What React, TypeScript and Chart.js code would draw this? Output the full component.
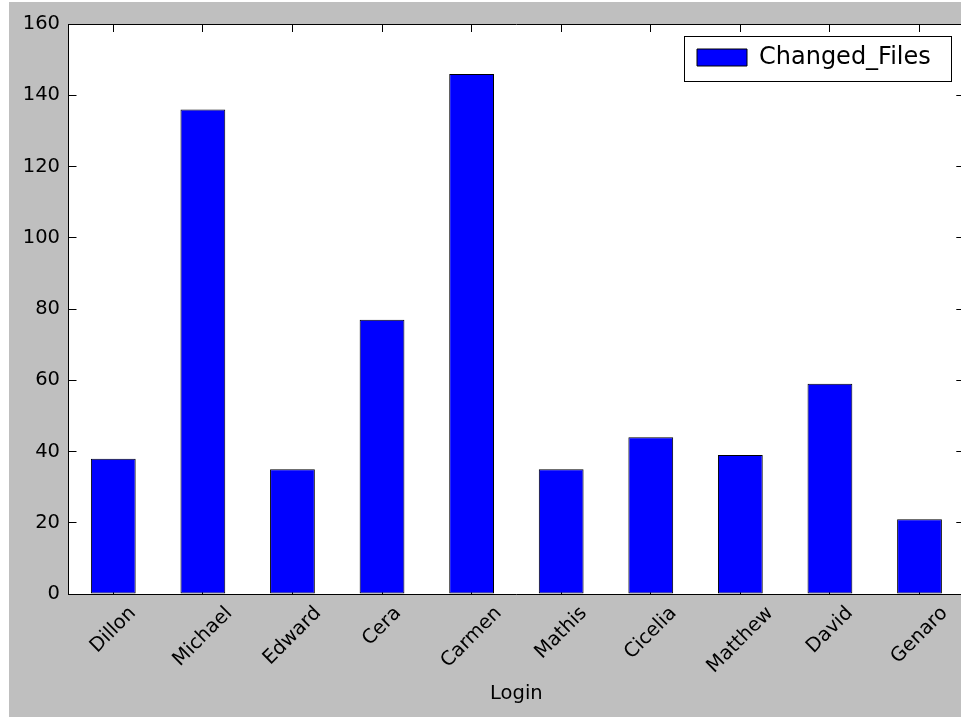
import React, { useEffect, useRef } from 'react';
import { Chart, registerables } from 'chart.js';

Chart.register(...registerables);

const categories = ['Dillon', 'Michael', 'Edward', 'Cera', 'Carmen', 'Mathis', 'Cicelia', 'Matthew', 'David', 'Genaro'];
const changedFiles = [38, 136, 35, 77, 146, 35, 44, 39, 59, 21];
const seriesName = 'Changed_Files';
const xAxisTitle = 'Login';
const yMin = 0;
const yMax = 160;
const yStep = 20;

const FONT = "'DejaVu Sans', sans-serif";

const whiteArea = {
  id: 'whiteArea',
  beforeDraw(chart: any) {
    const { ctx, chartArea } = chart;
    ctx.save();
    ctx.fillStyle = '#ffffff';
    ctx.fillRect(chartArea.left, chartArea.top, chartArea.right - chartArea.left, chartArea.bottom - chartArea.top);
    ctx.restore();
  },
};

const centerRotatedLabels = {
  id: 'centerRotatedLabels',
  beforeDraw(chart: any) {
    const scale = chart.scales.x;
    const items = scale.getLabelItems(chart.chartArea);
    const ctx = chart.ctx;
    ctx.save();
    items.forEach((it: any) => {
      if (it.__adj) return;
      ctx.font = it.font.string;
      const w = ctx.measureText(String(it.label)).width;
      it.options.translation[0] += 0.3536 * w;
      it.__adj = true;
    });
    ctx.restore();
  },
};

const legendPlacement = {
  id: 'legendPlacement',
  afterLayout(chart: any) {
    const lg = chart.legend;
    const ca = chart.chartArea;
    if (!lg) return;
    const frameW = 267;
    const frameH = 45;
    const frameRight = ca.right - 13.3;
    const frameTop = ca.top + 12;
    const frameLeft = frameRight - frameW;
    const w = lg.width;
    const h = lg.height;
    lg.left = frameLeft;
    lg.right = frameLeft + w;
    lg.top = frameTop - 3.5;
    lg.bottom = lg.top + h;
    chart.$legendFrame = { x: frameLeft, y: frameTop, w: frameW, h: frameH };
  },
  afterDraw(chart: any) {
    const f = chart.$legendFrame;
    if (!f) return;
    const ctx = chart.ctx;
    ctx.save();
    ctx.strokeStyle = '#000000';
    ctx.lineWidth = 1;
    ctx.strokeRect(Math.round(f.x) + 0.5, Math.round(f.y) + 0.5, Math.round(f.w), Math.round(f.h));
    ctx.restore();
  },
};

const innerGrid = {
  offset: false,
  drawOnChartArea: false,
  drawTicks: true,
  tickLength: -8,
  color: '#000000',
  tickColor: '#000000',
  lineWidth: 1,
};

const axisBorder = { display: true, color: '#000000', width: 1 };

export default function App() {
  const ref = useRef<HTMLCanvasElement>(null);

  useEffect(() => {
    if (!ref.current) return;
    const chart = new Chart(ref.current, {
      type: 'bar',
      data: {
        labels: categories,
        datasets: [
          {
            label: seriesName,
            data: changedFiles,
            backgroundColor: '#0000ff',
            borderColor: '#000000',
            borderWidth: 1,
            borderSkipped: false,
            barPercentage: 0.5,
            categoryPercentage: 1.0,
            xAxisID: 'x',
            yAxisID: 'y',
          },
        ],
      },
      options: {
        responsive: false,
        animation: false,
        devicePixelRatio: 1,
        events: [],
        layout: { padding: { top: 22, right: 4.7, left: 0, bottom: 0 } },
        plugins: {
          legend: {
            position: 'chartArea',
            align: 'start',
            labels: {
              boxWidth: 50,
              boxHeight: 17,
              padding: 13,
              color: '#000000',
              font: { family: FONT, size: 24 },
            },
          },
          tooltip: { enabled: false },
        },
        scales: {
          x: {
            type: 'category',
            position: 'bottom',
            offset: true,
            grid: innerGrid,
            border: axisBorder,
            ticks: {
              autoSkip: false,
              minRotation: 45,
              maxRotation: 45,
              padding: 16,
              color: '#000000',
              font: { family: FONT, size: 19.5 },
            },
            title: {
              display: true,
              text: xAxisTitle,
              color: '#000000',
              font: { family: FONT, size: 19.5 },
              padding: { top: 0, bottom: 11.3 },
            },
            afterFit: (s: any) => {
              s.height = 123;
              s.paddingLeft = 0;
              s.paddingRight = 0;
            },
          },
          x2: {
            type: 'category',
            position: 'top',
            offset: true,
            grid: innerGrid,
            border: axisBorder,
            ticks: { display: false, autoSkip: false },
            afterFit: (s: any) => {
              s.height = 0;
              s.paddingLeft = 0;
              s.paddingRight = 0;
            },
          },
          y: {
            type: 'linear',
            position: 'left',
            min: yMin,
            max: yMax,
            grid: innerGrid,
            border: axisBorder,
            ticks: {
              stepSize: yStep,
              padding: 16.5,
              color: '#000000',
              font: { family: FONT, size: 19.5 },
            },
            afterFit: (s: any) => {
              s.width = 59.5;
              s.paddingTop = 0;
              s.paddingBottom = 0;
            },
          },
          y2: {
            type: 'linear',
            position: 'right',
            min: yMin,
            max: yMax,
            grid: innerGrid,
            border: axisBorder,
            ticks: { stepSize: yStep, display: false },
            afterFit: (s: any) => {
              s.width = 0;
              s.paddingTop = 0;
              s.paddingBottom = 0;
            },
          },
        },
      } as any,
      plugins: [whiteArea, centerRotatedLabels, legendPlacement],
    });
    return () => chart.destroy();
  }, []);

  return (
    <div
      style={{
        position: 'absolute',
        left: 9,
        top: 2,
        width: 952,
        height: 715,
        overflow: 'hidden',
        background: '#bfbfbf',
      }}
    >
      <canvas ref={ref} width={960} height={715} style={{ display: 'block', width: 960, height: 715 }} />
    </div>
  );
}
